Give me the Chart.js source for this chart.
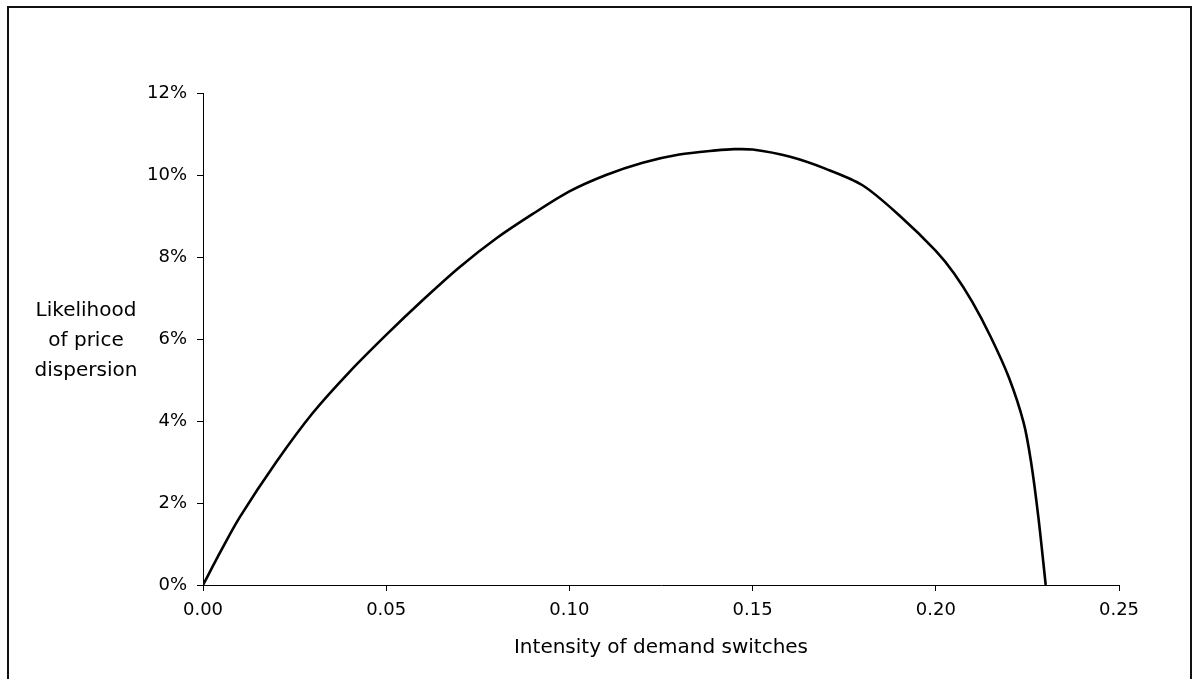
<!DOCTYPE html>
<html>
<head>
<meta charset="utf-8">
<script src="https://cdn.jsdelivr.net/npm/chart.js@4"></script>
<style>
  html, body { margin: 0; padding: 0; background: #fff; }
  #wrap { width: 1193px; height: 679px; }
</style>
</head>
<body>
<div id="wrap"><canvas id="chart" width="1193" height="679"></canvas></div>
<script>
// intensity of demand switches (x) and likelihood of price dispersion in % (y)
const intensity = [0, 0.005, 0.01, 0.02, 0.03, 0.04, 0.05, 0.06, 0.07, 0.08, 0.09, 0.10,
  0.11, 0.12, 0.13, 0.14, 0.145, 0.15, 0.16, 0.17, 0.18, 0.19, 0.20, 0.205, 0.21, 0.215,
  0.22, 0.224, 0.226, 0.228, 0.23];
const likelihood = [0, 0.85, 1.65, 3.0, 4.2, 5.2, 6.1, 6.95, 7.75, 8.45, 9.05, 9.6,
  10.0, 10.3, 10.5, 10.6, 10.63, 10.62, 10.45, 10.15, 9.75, 9.02, 8.15, 7.6, 6.9, 6.05,
  5.05, 3.95, 3.0, 1.65, 0];
const yTitle = ["Likelihood", "of price", "dispersion"];
const xTitle = "Intensity of demand switches";

const FONT = "'DejaVu Sans', Verdana, sans-serif";

const points = intensity.map((x, i) => ({ x: x, y: likelihood[i] }));

// white background + frame round the whole chart
const framePlugin = {
  id: "frame",
  beforeDraw(chart) {
    const ctx = chart.ctx;
    ctx.save();
    ctx.fillStyle = "#fff";
    ctx.fillRect(0, 0, chart.width, chart.height);
    ctx.strokeStyle = "#111";
    ctx.lineWidth = 2;
    ctx.strokeRect(8, 7, 1183, 700);
    ctx.restore();
  },
};

// horizontal y axis title, left of the tick labels
const yTitlePlugin = {
  id: "yTitle",
  afterDraw(chart) {
    const ctx = chart.ctx;
    ctx.save();
    ctx.font = "20px " + FONT;
    ctx.fillStyle = "#000";
    ctx.textAlign = "center";
    ctx.textBaseline = "middle";
    yTitle.forEach((line, i) => {
      ctx.fillText(line, 86, 311 + i * 30);
    });
    ctx.restore();
  },
};

new Chart(document.getElementById("chart").getContext("2d"), {
  type: "scatter",
  data: {
    datasets: [{
      data: points,
      showLine: true,
      borderColor: "#000",
      borderWidth: 2.6,
      pointRadius: 0,
      tension: 0.3,
      fill: false,
    }],
  },
  options: {
    responsive: false,
    animation: false,
    layout: { padding: { left: 143, top: 93, right: 74, bottom: 0 } },
    plugins: {
      legend: { display: false },
      tooltip: { enabled: false },
    },
    scales: {
      x: {
        type: "linear",
        min: 0,
        max: 0.25,
        afterFit: (s) => { s.height = 94; },
        border: { display: true, color: "#000", width: 1 },
        grid: { drawOnChartArea: false, drawTicks: true, tickLength: 6, color: "#000" },
        ticks: {
          stepSize: 0.05,
          padding: 9,
          color: "#000",
          font: { family: FONT, size: 18 },
          callback: (v) => Number(v).toFixed(2),
        },
        title: {
          display: true,
          text: xTitle,
          color: "#000",
          font: { family: FONT, size: 20 },
          padding: { top: 0, bottom: 19 },
        },
      },
      y: {
        min: 0,
        max: 12,
        afterFit: (s) => { s.width = 60; },
        border: { display: true, color: "#000", width: 1 },
        grid: { drawOnChartArea: false, drawTicks: true, tickLength: 6, color: "#000" },
        ticks: {
          stepSize: 2,
          padding: 10,
          color: "#000",
          font: { family: FONT, size: 18 },
          callback: (v) => v + "%",
        },
      },
    },
  },
  plugins: [framePlugin, yTitlePlugin],
});
</script>
</body>
</html>
